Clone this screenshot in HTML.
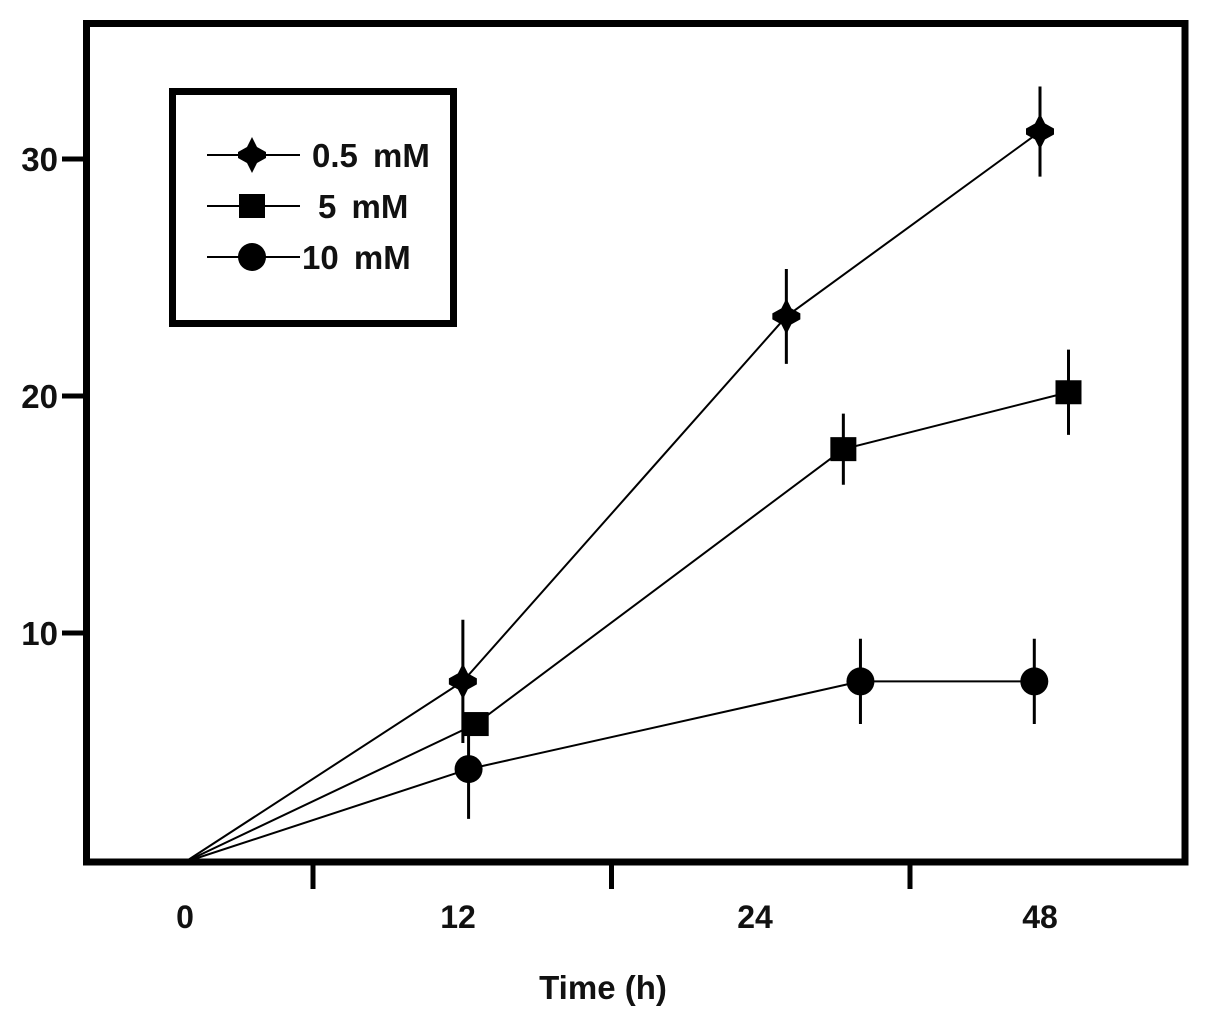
<!DOCTYPE html>
<html><head><meta charset="utf-8"><style>
html,body{margin:0;padding:0;background:#fff;}
svg{display:block;}
text{font-family:"Liberation Sans",Arial,sans-serif;font-weight:bold;fill:#111;}
</style></head><body>
<svg id="chart" width="1205" height="1022" viewBox="0 0 1205 1022">
<g id="frame">
<rect x="86.5" y="23.5" width="1098.5" height="838.5" fill="none" stroke="#000" stroke-width="7"/>
</g>
<g id="axes"></g>
<g id="series"></g>
<g id="legend">
<rect x="172.5" y="91.5" width="281" height="232" fill="none" stroke="#000" stroke-width="7"/>
</g>
<text x="603" y="999" font-size="33" text-anchor="middle">Time (h)</text>
</svg>
<script>
const categories = ["0", "12", "24", "48"];
const yTicks = [10, 20, 30];
const seriesNames = ["0.5 mM", "5 mM", "10 mM"];
const xPos05 = [0, 0.975, 2.11, 3.0];
const val05 = [0, 8.0, 23.4, 31.2];
const err05 = [0, 2.6, 2.0, 1.9];
const xPos5 = [0, 1.02, 2.31, 3.1];
const val5 = [0, 6.2, 17.8, 20.2];
const err5 = [0, 0, 1.5, 1.8];
const xPos10 = [0, 0.995, 2.37, 2.98];
const val10 = [0, 4.3, 8.0, 8.0];
const err10 = [0, 2.1, 1.8, 1.8];

const NS = "http://www.w3.org/2000/svg";
function xS(i){ return 185 + i * 285; }
function yS(v){ return 634 - (v - 10) * 23.7; }
function mk(tag, attrs, parent){
  const e = document.createElementNS(NS, tag);
  for (const k in attrs) e.setAttribute(k, attrs[k]);
  parent.appendChild(e);
  return e;
}
const axes = document.getElementById('axes');
yTicks.forEach(t => {
  const y = yS(t) - 1;
  const l = mk('line', {x1: 62, x2: 86, y1: y, y2: y, stroke: '#000', 'stroke-width': 5}, axes);
  
  
  const tx = mk('text', {x: 58, y: y + 12, 'font-size': 33, 'text-anchor': 'end'}, axes);
  tx.textContent = t;
  
  
});
categories.forEach((c, i) => {
  const tx = mk('text', {x: xS(i) - (i === 1 ? 12 : 0), y: 928, 'font-size': 32, 'text-anchor': 'middle'}, axes);
  tx.textContent = c;
  
  
  if (i < categories.length - 1) {
    const xm = xS(i + 0.5) - 14.5 + i * 13.5;
    const l = mk('line', {x1: xm, x2: xm, y1: 862, y2: 889, stroke: '#000', 'stroke-width': 5}, axes);
    
    
  }
});

function marker(type, cx, cy, parent){
  let e;
  if (type === 0) {
    e = mk('path', {d: `M${cx},${cy-18} L${cx+5},${cy-8} L${cx+14},${cy-3} L${cx+14},${cy+3} L${cx+5},${cy+8} L${cx},${cy+18} L${cx-5},${cy+8} L${cx-14},${cy+3} L${cx-14},${cy-3} L${cx-5},${cy-8} Z`, fill: '#000'}, parent);
  } else if (type === 1) {
    e = mk('rect', {x: cx - 13, y: cy - 12, width: 26, height: 24, fill: '#000'}, parent);
  } else {
    e = mk('circle', {cx: cx, cy: cy, r: 14, fill: '#000'}, parent);
  }
  return e;
}

const seriesG = document.getElementById('series');
const all = [[xPos05, val05, err05], [xPos5, val5, err5], [xPos10, val10, err10]];
const names = ['series-0-5mm', 'series-5mm', 'series-10mm'];
all.forEach((s, si) => {
  const g = mk('g', {}, seriesG);
  
  
  const pts = s[0].map((x, i) => [xS(x), i === 0 ? 862 : yS(s[1][i])]);
  const pl = mk('polyline', {points: pts.map(p => p.join(',')).join(' '), fill: 'none', stroke: '#000', 'stroke-width': 2}, g);
  
  
  for (let i = 1; i < pts.length; i++) {
    const [px, py] = pts[i];
    const e = s[2][i];
    if (e > 0) {
      const eb = mk('line', {x1: px, x2: px, y1: yS(s[1][i] + e), y2: yS(s[1][i] - e), stroke: '#000', 'stroke-width': 3}, g);
      
      
    }
    const m = marker(si, px, py, g);
    
    
  }
});

const lg = document.getElementById('legend');
const legY = [155, 206, 257];
const legX = [312, 318, 302];
seriesNames.forEach((n, i) => {
  const g = mk('g', {}, lg);
  
  
  mk('line', {x1: 207, x2: 300, y1: legY[i], y2: legY[i], stroke: '#000', 'stroke-width': 2}, g);
  marker(i, 252, legY[i], g);
  const t = mk('text', {x: legX[i], y: legY[i] + 12, 'font-size': 33, 'word-spacing': 6}, g);
  t.textContent = n;
  
  
});
</script>
</body></html>
